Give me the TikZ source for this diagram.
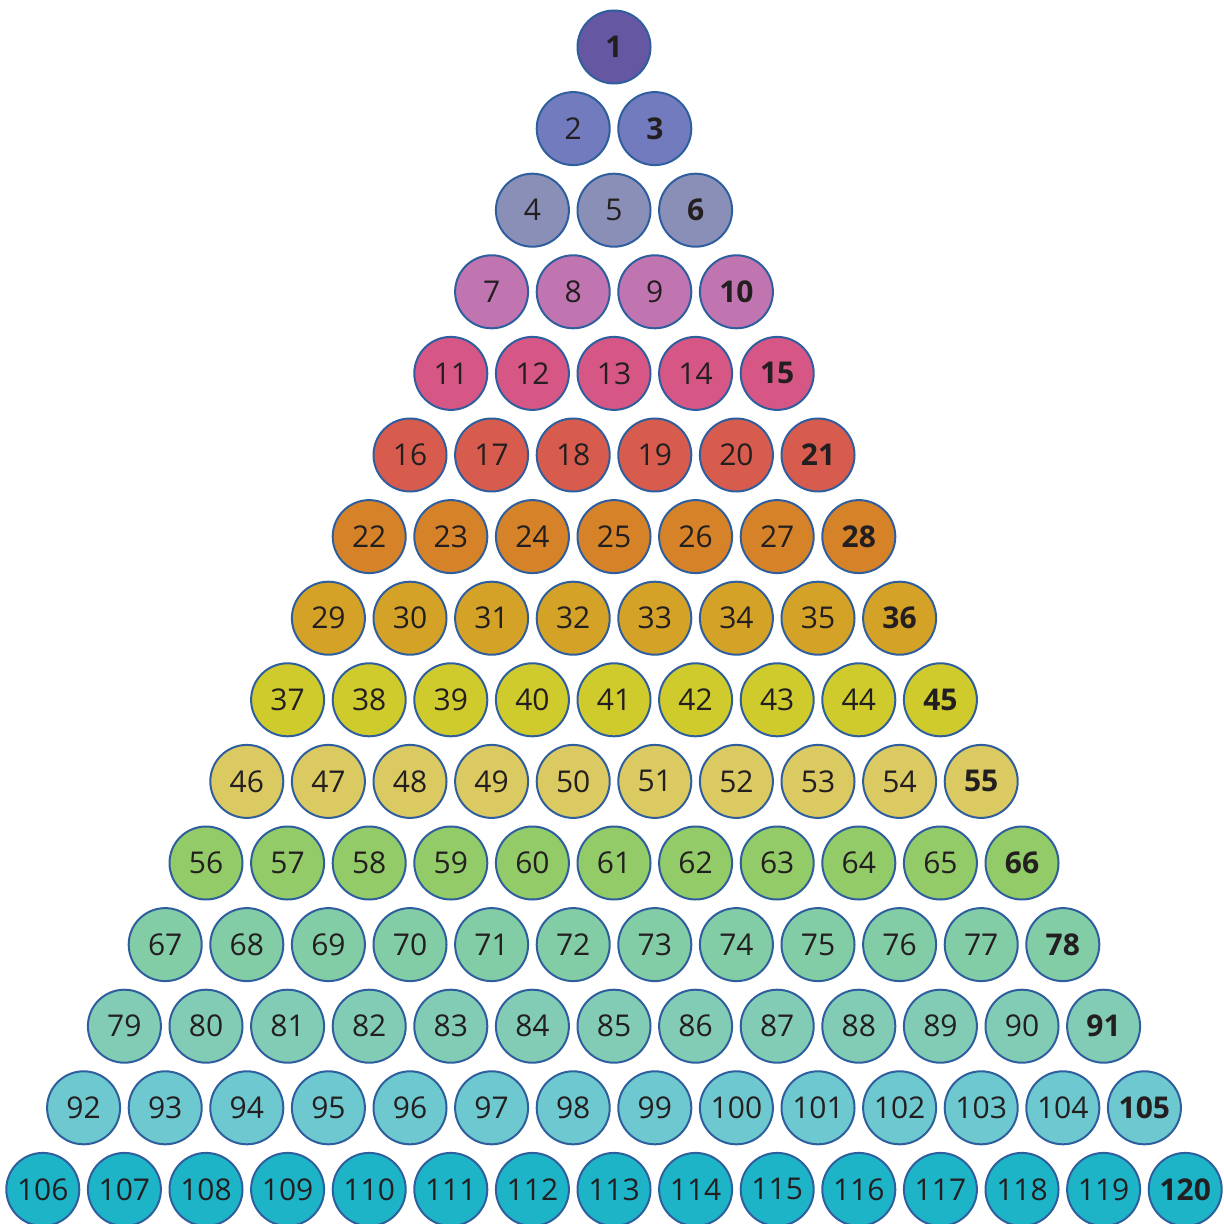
\documentclass[tikz,border=0pt]{standalone}
\usepackage{fontspec}
\setmainfont{Open Sans}
\definecolor{r1}{HTML}{6657A3}
\definecolor{r2}{HTML}{717BBD}
\definecolor{r3}{HTML}{8A8FB8}
\definecolor{r4}{HTML}{C075B0}
\definecolor{r5}{HTML}{D65785}
\definecolor{r6}{HTML}{D85C4E}
\definecolor{r7}{HTML}{D58229}
\definecolor{r8}{HTML}{D3A227}
\definecolor{r9}{HTML}{CFCB2D}
\definecolor{r10}{HTML}{DBC961}
\definecolor{r11}{HTML}{92CB68}
\definecolor{r12}{HTML}{82CCA6}
\definecolor{r13}{HTML}{82CCB5}
\definecolor{r14}{HTML}{6EC8CF}
\definecolor{r15}{HTML}{1EB4C8}
\definecolor{edge}{HTML}{2E5E9E}
\definecolor{txt}{HTML}{231F20}
\tikzset{
  ball/.style={circle, draw=edge, line width=1pt, minimum size=36.5pt, inner sep=0pt, text=txt, font=\fontsize{15}{18}\selectfont},
  tri/.style={font=\fontsize{15}{18}\selectfont\bfseries}
}
\begin{document}
\begin{tikzpicture}[x=0.5pt,y=-0.5pt]
\useasboundingbox (0,0) rectangle (1224,1224);
\foreach \r in {1,...,15}{
  \foreach \i in {1,...,\r}{
    \pgfmathtruncatemacro{\n}{(\r-1)*\r/2+\i}
    \ifnum\i=\r
      \node[ball, tri, fill=r\r] (n\n) at ({614+(\i-(\r+1)/2)*81.6},{47+(\r-1)*81.6}) {\n};
    \else
      \node[ball, fill=r\r] (n\n) at ({614+(\i-(\r+1)/2)*81.6},{47+(\r-1)*81.6}) {\n};
    \fi
  }
}
\end{tikzpicture}
\end{document}
